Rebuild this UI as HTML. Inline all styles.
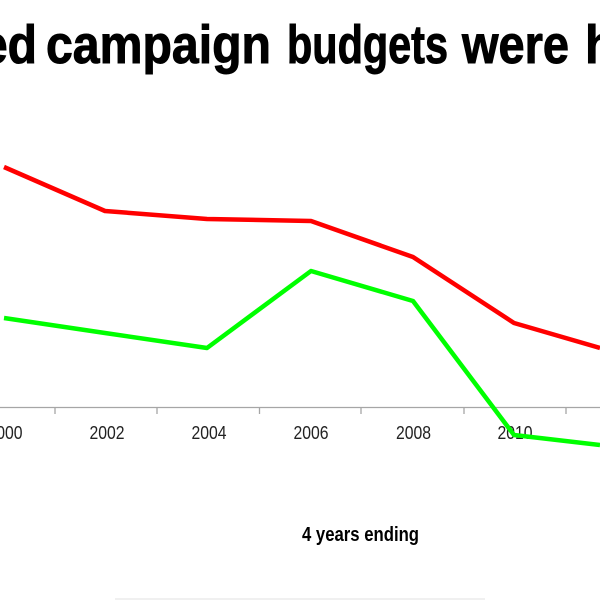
<!DOCTYPE html>
<html>
<head>
<meta charset="utf-8">
<style>
html,body{margin:0;padding:0;background:#fff;}
svg{display:block;}
</style>
</head>
<body>
<svg width="600" height="600" viewBox="0 0 600 600" xmlns="http://www.w3.org/2000/svg">
<rect width="600" height="600" fill="#fff"/>
<g font-family="Liberation Sans, sans-serif" font-weight="bold" font-size="54" fill="#000" stroke="#000" stroke-width="1">
<text x="-19" y="63" textLength="56" lengthAdjust="spacingAndGlyphs">ed</text>
<text x="46" y="63" textLength="225" lengthAdjust="spacingAndGlyphs">campaign</text>
<text x="287" y="63" textLength="161" lengthAdjust="spacingAndGlyphs">budgets</text>
<text x="462" y="63" textLength="107" lengthAdjust="spacingAndGlyphs">were</text>
<text x="585" y="63" textLength="30" lengthAdjust="spacingAndGlyphs">h</text>
</g>
<line x1="0" y1="407.5" x2="600" y2="407.5" stroke="#a6a6a6" stroke-width="1.3"/>
<g stroke="#a6a6a6" stroke-width="1.3">
<line x1="55" y1="407" x2="55" y2="414"/>
<line x1="157" y1="407" x2="157" y2="414"/>
<line x1="259.5" y1="407" x2="259.5" y2="414"/>
<line x1="361" y1="407" x2="361" y2="414"/>
<line x1="464" y1="407" x2="464" y2="414"/>
<line x1="566" y1="407" x2="566" y2="414"/>
</g>
<g font-family="Liberation Sans, sans-serif" font-size="18" fill="#222" text-anchor="middle">
<text x="5" y="439" textLength="35" lengthAdjust="spacingAndGlyphs">2000</text>
<text x="107" y="439" textLength="35" lengthAdjust="spacingAndGlyphs">2002</text>
<text x="209" y="439" textLength="35" lengthAdjust="spacingAndGlyphs">2004</text>
<text x="311" y="439" textLength="35" lengthAdjust="spacingAndGlyphs">2006</text>
<text x="413.5" y="439" textLength="35" lengthAdjust="spacingAndGlyphs">2008</text>
<text x="515" y="439" textLength="35" lengthAdjust="spacingAndGlyphs">2010</text>
<text x="617" y="439" textLength="35" lengthAdjust="spacingAndGlyphs">2012</text>
</g>
<polyline points="4,167 105,211 207,219 311,221 413,257 514,323 600,348" fill="none" stroke="#ff0000" stroke-width="4.5" stroke-linejoin="round"/>
<polyline points="4,318 105,333 207,348 311,271 413,301 514,435 600,445" fill="none" stroke="#00ff00" stroke-width="4.5" stroke-linejoin="round"/>
<text x="302" y="541" font-family="Liberation Sans, sans-serif" font-weight="bold" font-size="20.5" fill="#000" textLength="117" lengthAdjust="spacingAndGlyphs">4 years ending</text>
<line x1="115" y1="599" x2="485" y2="599" stroke="#ececec" stroke-width="1.5"/>
</svg>
</body>
</html>
